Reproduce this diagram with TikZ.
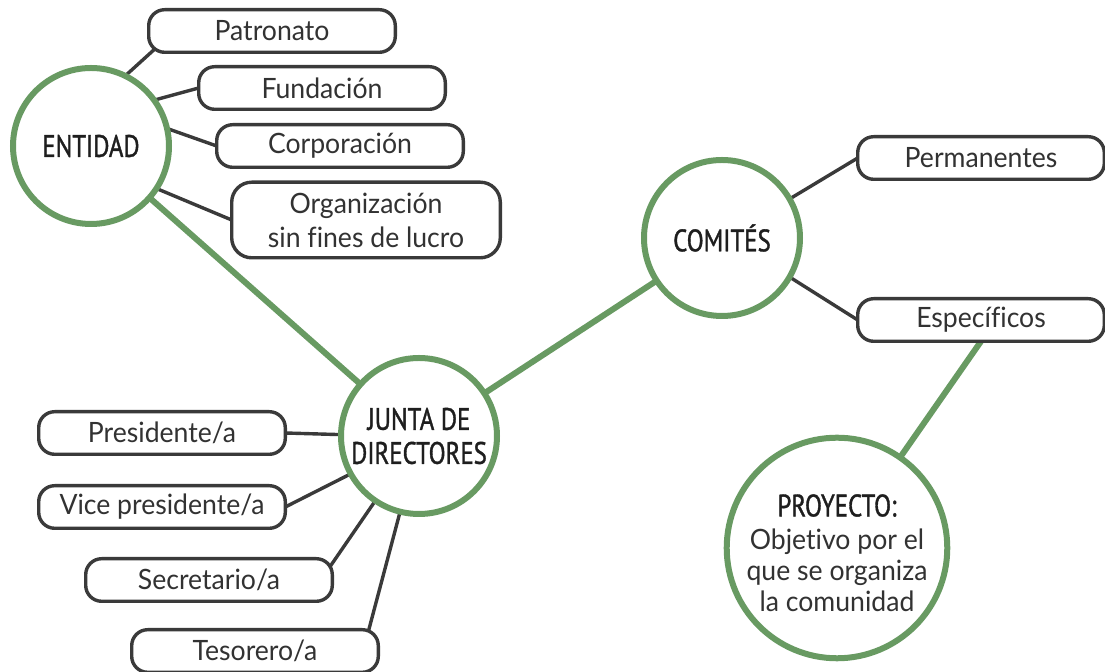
\documentclass[tikz,border=0pt]{standalone}
\usepackage{fontspec}
\setmainfont{Lato}[FakeStretch=0.95,Ligatures=NoCommon]
\newfontfamily\headfont{PT Sans}[FakeStretch=0.8,FakeBold=1.2]
\usepackage{xcolor}
\usepackage{tikz}
\usetikzlibrary{shapes,positioning,backgrounds}
\definecolor{leaf}{RGB}{104,154,98}
\definecolor{wire}{RGB}{58,58,58}
\definecolor{ink}{RGB}{30,30,30}
\definecolor{txt}{RGB}{50,50,50}

\begin{document}
\begin{tikzpicture}

\tikzset{
	circ/.style={
		circle,
		draw=leaf,
		line width=3pt,
		fill=white,
		minimum size=78pt,
		inner sep=0pt,
		outer sep=0pt,
		text=ink,
		align=center,
		font=\headfont\fontsize{15.5}{17}\selectfont},
	box/.style={
		draw=wire,
		rectangle,
		rounded corners=8pt,
		line width=1.7pt,
		fill=white,
		minimum width=123.3pt,
		minimum height=21.3pt,
		inner sep=0pt,
		outer sep=0pt,
		text=txt,
		align=center,
		font=\fontsize{14}{17}\selectfont},
	link/.style={
		draw=wire,
		line width=1.7pt},
	branch/.style={
		draw=leaf,
		line width=3pt}
}

\useasboundingbox (0,0) rectangle (552.5pt,-336pt);

\node[circ] (ent) at (45.5pt,-73pt) {ENTIDAD};

\node[circ,below=145pt of ent.center,anchor=center,xshift=164pt] (jun) {JUNTA DE\\DIRECTORES};

\node[circ,right=151.5pt of jun.center,anchor=center,yshift=99pt] (com) {COMITÉS};

% entidad
\node[box,right=90.5pt of ent.center,anchor=center,yshift=57.5pt] (pat) {Patronato};
\node[box,below=28.5pt of pat.center,anchor=center,xshift=25pt] (fun) {Fundación};
\node[box,below=29pt of fun.center,anchor=center,xshift=9pt] (cor) {Corporación};
\node[box,below=37pt of cor.center,anchor=center,xshift=13pt,
	minimum width=134.3pt,minimum height=37.8pt,rounded corners=10pt] (org)
	{Organización\\sin fines de lucro};

% junta de directores
\node[box,left=128.5pt of jun.center,anchor=center,yshift=1.5pt] (pre) {Presidente/a};
\node[box,below=37pt of pre.center,anchor=center] (vic) {Vice presidente/a};
\node[box,below=36.5pt of vic.center,anchor=center,xshift=23.5pt] (sec) {Secretario/a};
\node[box,below=35.5pt of sec.center,anchor=center,xshift=23pt] (tes) {Tesorero/a};

% comites
\node[box,right=129.5pt of com.center,anchor=center,yshift=40pt] (per) {Permanentes};
\node[box,below=81pt of per.center,anchor=center] (esp) {Específicos};

\node[circ,below=155pt of com.center,anchor=center,xshift=57.5pt,minimum size=101.5pt,
	font=\fontsize{14}{15.5}\selectfont,text=txt] (pro)
	{{\headfont\fontsize{15.5}{17}\selectfont\color{ink}\rule{0pt}{16pt}PROYECTO:}\\[1pt]Objetivo por el\\que se organiza\\la comunidad};

\begin{scope}[on background layer]
	\draw[branch] (ent) -- (jun);
	\draw[branch] (jun) -- (com);
	\draw[branch] (esp.south) -- (pro);

	\draw[link] (ent.64) -- ([xshift=4pt,yshift=2.5pt]pat.south west);
	\draw[link] (ent.36) -- (fun.west);
	\draw[link] (ent.13) -- (cor.west);
	\draw[link] (ent.-33) -- (org.west);

	\draw[link] (jun.179) -- (pre.east);
	\draw[link] (jun.209) -- (vic.east);
	\draw[link] (jun.236) -- ([xshift=-1.5pt,yshift=-4.5pt]sec.north east);
	\draw[link] (jun.256) -- ([xshift=-5pt,yshift=-1pt]tes.north east);

	\draw[link] (com.30) -- (per.west);
	\draw[link] (com.-30) -- (esp.west);
\end{scope}

\end{tikzpicture}
\end{document}
